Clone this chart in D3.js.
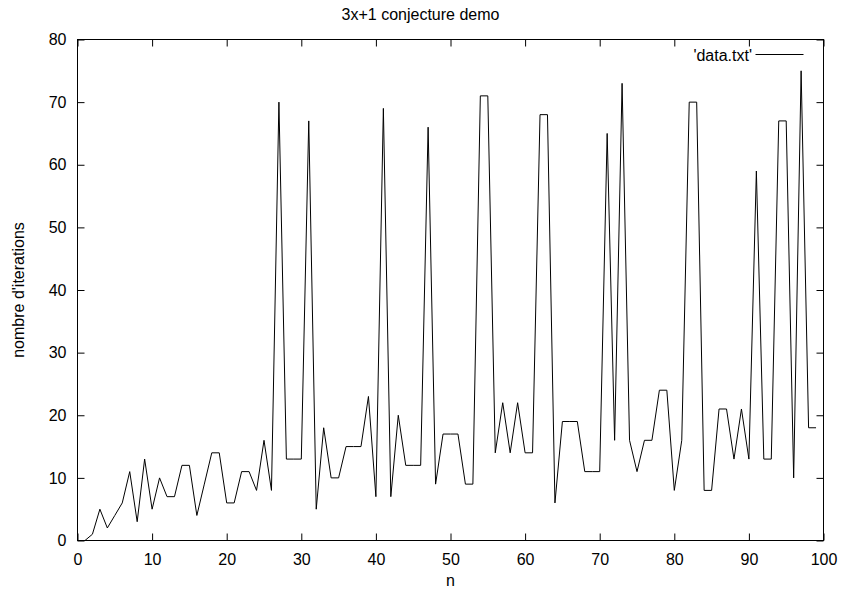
<!DOCTYPE html>
<html>
<head>
<meta charset="utf-8">
<script src="https://cdn.jsdelivr.net/npm/d3@7"></script>
<style>
  body { margin: 0; background: #fff; }
  text { font-family: "Liberation Sans", Arial, sans-serif; font-size: 16px; fill: #000; }
</style>
</head>
<body>
<div class="chart"></div>
<script>
// halving steps per n
const nValues = d3.range(1, 100);
const iterations = [
  0, 1, 5, 2, 4, 6, 11, 3, 13, 5, 10, 7, 7, 12, 12, 4, 9, 14, 14, 6,
  6, 11, 11, 8, 16, 8, 70, 13, 13, 13, 67, 5, 18, 10, 10, 15, 15, 15, 23, 7,
  69, 7, 20, 12, 12, 12, 66, 9, 17, 17, 17, 9, 9, 71, 71, 14, 22, 14, 22, 14,
  14, 68, 68, 6, 19, 19, 19, 11, 11, 11, 65, 16, 73, 16, 11, 16, 16, 24, 24, 8,
  16, 70, 70, 8, 8, 21, 21, 13, 21, 13, 59, 13, 13, 67, 67, 10, 75, 18, 18
];
const xTicks = [0, 10, 20, 30, 40, 50, 60, 70, 80, 90, 100];
const yTicks = [0, 10, 20, 30, 40, 50, 60, 70, 80];

const data = nValues.map((n, i) => ({n: n, v: iterations[i]}));

const margin = {top: 39.5, right: 17.5, bottom: 48.5, left: 77.5},
    width = 841 - margin.left - margin.right,
    height = 589 - margin.top - margin.bottom;

const svg = d3.select(".chart")
  .append("svg")
    .attr("width", 841)
    .attr("height", 589)
  .append("g")
    .attr("transform", `translate(${margin.left},${margin.top})`);

const x = d3.scaleLinear().domain([0, 100]).range([0, width]);
const y = d3.scaleLinear().domain([0, 80]).range([height, 0]);

// inward ticks on all four sides, gnuplot style
const tickLen = 7;
svg.append("g")
  .attr("transform", `translate(0,${height})`)
  .call(d3.axisBottom(x).tickValues(xTicks).tickSize(-tickLen).tickPadding(13).tickSizeOuter(0))
  .call(g => g.select(".domain").remove());
svg.append("g")
  .call(d3.axisTop(x).tickValues(xTicks).tickSize(-tickLen).tickFormat("").tickSizeOuter(0))
  .call(g => g.select(".domain").remove());
svg.append("g")
  .call(d3.axisLeft(y).tickValues(yTicks).tickSize(-tickLen).tickPadding(11).tickSizeOuter(0))
  .call(g => g.select(".domain").remove());
svg.append("g")
  .attr("transform", `translate(${width},0)`)
  .call(d3.axisRight(y).tickValues(yTicks).tickSize(-tickLen).tickFormat("").tickSizeOuter(0))
  .call(g => g.select(".domain").remove());

svg.selectAll(".tick text").style("font-size", "16px").style("font-family", "Liberation Sans, Arial, sans-serif");

svg.append("rect")
  .attr("width", width)
  .attr("height", height)
  .attr("fill", "none")
  .attr("stroke", "#000")
  .attr("stroke-width", 1);

// the series
const line = d3.line().x(d => x(d.n)).y(d => y(d.v));
svg.append("path")
  .datum(data)
  .attr("fill", "none")
  .attr("stroke", "#000")
  .attr("stroke-width", 1)
  .attr("d", line);

// legend
svg.append("text")
  .attr("x", 674.5)
  .attr("y", 21)
  .attr("text-anchor", "end")
  .text("'data.txt'");
svg.append("line")
  .attr("x1", 678).attr("x2", 726)
  .attr("y1", 15).attr("y2", 15)
  .attr("stroke", "#000");

// title (centred on the page) and axis labels
svg.append("text")
  .attr("x", 841 / 2 - margin.left)
  .attr("y", -20)
  .attr("text-anchor", "middle")
  .text("3x+1 conjecture demo");

svg.append("text")
  .attr("x", width / 2)
  .attr("y", height + 45)
  .attr("text-anchor", "middle")
  .text("n");

svg.append("text")
  .attr("transform", "rotate(-90)")
  .attr("x", -height / 2)
  .attr("y", -54)
  .attr("text-anchor", "middle")
  .text("nombre d'iterations");
</script>
</body>
</html>
